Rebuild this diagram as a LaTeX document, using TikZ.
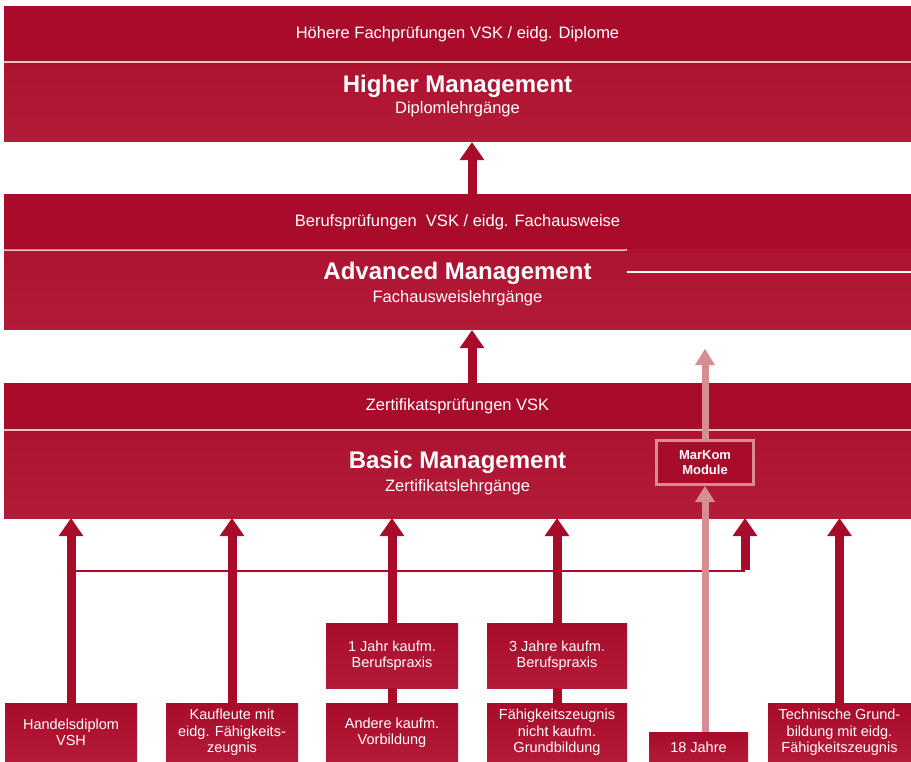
\documentclass[tikz,border=0pt]{standalone}
\usepackage{fontspec}
\setmainfont{Liberation Sans}
\usetikzlibrary{arrows.meta,positioning}
\definecolor{vskdark}{RGB}{168,12,42}
\definecolor{vsklight}{RGB}{180,27,57}
\definecolor{vskpink}{RGB}{214,142,146}
\definecolor{vskrule}{RGB}{234,190,194}
\newcommand{\bandfont}{\fontsize{16.5}{19}\selectfont}
\newcommand{\titlefont}{\bfseries\fontsize{24}{28}\selectfont}
\newcommand{\boxfont}{\fontsize{14.5}{16.5}\selectfont}
\tikzstyle{bandtop}=[fill=vskdark,minimum width=907,inner sep=0pt,text=white,font=\bandfont]
\tikzstyle{bandlow}=[top color=vskdark!50!vsklight,bottom color=vsklight,minimum width=907,inner sep=0pt]
\tikzstyle{title}=[text=white,font=\titlefont,inner sep=0pt]
\tikzstyle{subtitle}=[text=white,font=\bandfont,inner sep=0pt]
\tikzstyle{srcbox}=[top color=vskdark,bottom color=vsklight,text=white,font=\boxfont,
  align=center,inner sep=0pt,minimum width=132,minimum height=59]
\tikzstyle{uparrow}=[vskdark,line width=9pt,-{Triangle[width=25pt,length=18pt,line width=0pt]}]
\tikzstyle{pinkarrow}=[vskpink,line width=7pt,-{Triangle[width=20pt,length=16pt,line width=0pt]}]
\tikzstyle{divline}=[vskrule,line width=1.5pt]

\begin{document}
\begin{tikzpicture}[x=1pt,y=-1pt]
        \useasboundingbox[fill=white] (0,0) rectangle (911,762);

        % three levels
        \node[bandtop,minimum height=56] at (457.5,34) (hfp) {Höhere Fachprüfungen VSK / eidg. Diplome};
        \node[bandlow,minimum height=80] at (457.5,102) (hm) {};
        \node[title] at (457.5,86) (hmt) {Higher Management};
        \node[subtitle] at (457.5,109) (hms) {Diplomlehrgänge};

        \node[bandtop,minimum height=56] at (457.5,222) (bp) {Berufsprüfungen~~VSK / eidg. Fachausweise};
        \node[bandlow,minimum height=80] at (457.5,290) (am) {};
        \node[title] at (457.5,273) (amt) {Advanced Management};
        \node[subtitle] at (457.5,298) (ams) {Fachausweislehrgänge};

        \node[bandtop,minimum height=47] at (457.5,406.5) (zp) {Zertifikatsprüfungen VSK};
        \node[bandlow,minimum height=88] at (457.5,474) (bm) {};
        \node[title] at (457.5,462) (bmt) {Basic Management};
        \node[subtitle] at (457.5,487) (bms) {Zertifikatslehrgänge};

        \draw[divline] (hfp.south west) -- (hfp.south east);
        \draw[divline] (bp.south west) -- (627,250);
        \draw[white,line width=1.2pt] (627,272) -- (am.east |- 0,272);
        \draw[divline] (zp.south west) -- (zp.south east);

        \node[fill=vskdark,draw=vskpink,line width=3pt,minimum width=97,minimum height=44,
          text=white,font=\bfseries\fontsize{13}{14.5}\selectfont,align=center,inner sep=0pt]
          at (705,462.5) (mk) {MarKom\\Module};

        % entry boxes
        \node[srcbox] at (71,732.5) (hd) {Handelsdiplom\\VSH};
        \node[srcbox] at (232,732.5) (kf) {Kaufleute mit\\eidg. Fähigkeits-\\zeugnis};
        \node[srcbox] at (392,732.5) (ak) {Andere kaufm.\\Vorbildung};
        \node[srcbox,minimum height=65] at (392,655.5) (j1) {1 Jahr kaufm.\\Berufspraxis};
        \node[srcbox,minimum width=140,minimum height=65] at (557,655.5) (j3) {3 Jahre kaufm.\\Berufspraxis};
        \node[srcbox,minimum width=140] at (557,732.5) (fz) {Fähigkeitszeugnis\\nicht kaufm.\\Grundbildung};
        \node[srcbox,minimum width=99,minimum height=30] at (698.5,747) (j18) {18 Jahre};
        \node[srcbox,minimum width=143] at (839.5,732.5) (tg) {Technische Grund-\\bildung mit eidg.\\Fähigkeitszeugnis};

        \coordinate (axis) at (472,0);
        \coordinate (split) at (745,571);
        \coordinate (pinktop) at (705,349);

        \draw[uparrow] (bp.north -| axis) -- (hm.south -| axis);
        \draw[uparrow] (zp.north -| axis) -- (am.south -| axis);

        \draw[vskdark,line width=2pt] (hd.north |- split) -- (split);
        \draw[uparrow] (hd.north) -- (hd.north |- bm.south);
        \draw[uparrow] (kf.north) -- (kf.north |- bm.south);
        \draw[vskdark,line width=9pt] (ak.north) -- (j1.south);
        \draw[uparrow] (j1.north) -- (j1.north |- bm.south);
        \draw[vskdark,line width=9pt] (fz.north) -- (j3.south);
        \draw[uparrow] (j3.north) -- (j3.north |- bm.south);
        \draw[uparrow] ([yshift=1pt]split) -- (split |- bm.south);
        \draw[uparrow] (tg.north) -- (tg.north |- bm.south);

        \draw[pinkarrow] (mk.south |- j18.north) -- (mk.south);
        \draw[pinkarrow] (mk.north) -- (pinktop);
      \end{tikzpicture}
\end{document}
